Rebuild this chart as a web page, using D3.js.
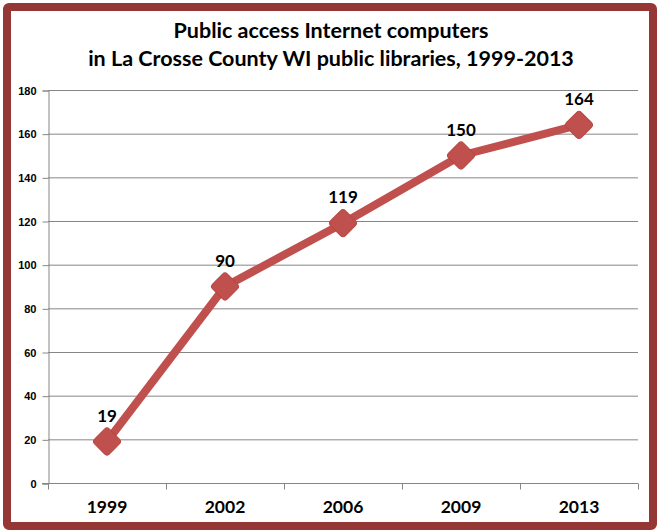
<!DOCTYPE html>
<html>
<head>
<meta charset="utf-8">
<script src="https://cdn.jsdelivr.net/npm/d3@7"></script>
<style>
  body { margin: 0; background: #fff; }
  svg { display: block; }
</style>
</head>
<body>
<div id="chart"></div>
<script>
// chart data
var years = ['1999', '2002', '2006', '2009', '2013']
var computers = [19, 90, 119, 150, 164]
var yTicks = [0, 20, 40, 60, 80, 100, 120, 140, 160, 180]
var titleLines = ['Public access Internet computers', 'in La Crosse County WI public libraries, 1999-2013']

var width = 660, height = 531
var lineColor = '#C0504D'

var svg = d3.select('#chart')
    .append('svg')
    .attr('width', width)
    .attr('height', height)

// outer frame
svg.append('rect')
    .attr('x', 7).attr('y', 7)
    .attr('width', 646).attr('height', 519)
    .attr('rx', 2)
    .attr('fill', '#fff')
    .attr('stroke', '#953735')
    .attr('stroke-width', 8)

// title
svg.selectAll('.title')
    .data(titleLines)
    .enter()
    .append('text')
    .attr('class', 'title')
    .attr('x', 331)
    .attr('y', function (d, i) { return 38 + i * 28 })
    .attr('text-anchor', 'middle')
    .style('font-family', 'Lato, sans-serif')
    .style('font-weight', 'bold')
    .style('font-size', '21.5px')
    .text(function (d) { return d })

// scales
var x = d3.scaleBand().domain(years).range([48, 638])
var y = d3.scaleLinear().domain([0, 180]).range([483, 90])

// gridlines
svg.selectAll('.grid')
    .data(yTicks.slice(1))
    .enter()
    .append('line')
    .attr('x1', 48).attr('x2', 638)
    .attr('y1', function (d) { return y(d) + 0.5 })
    .attr('y2', function (d) { return y(d) + 0.5 })
    .attr('stroke', '#868686')
    .attr('stroke-width', 1)

// y axis
var yAxis = svg.append('g')
    .attr('transform', 'translate(48.5,0.5)')
    .call(d3.axisLeft(y).tickValues(yTicks).tickSize(6).tickPadding(6))
yAxis.selectAll('line, path').attr('stroke', '#868686')
yAxis.selectAll('text')
    .style('font-family', 'Arial, sans-serif')
    .style('font-weight', 'bold')
    .style('font-size', '11px')
    .attr('fill', '#000')

// x axis: ticks between categories
var xAxis = svg.append('g')
    .attr('transform', 'translate(0,483.5)')
xAxis.append('line')
    .attr('x1', 42).attr('x2', 638)
    .attr('stroke', '#868686')
xAxis.selectAll('.tick')
    .data(years)
    .enter()
    .append('line')
    .attr('x1', function (d) { return Math.round(x(d) + x.bandwidth()) + 0.5 })
    .attr('x2', function (d) { return Math.round(x(d) + x.bandwidth()) + 0.5 })
    .attr('y1', 0).attr('y2', 6)
    .attr('stroke', '#868686')
xAxis.append('line')
    .attr('x1', 48.5).attr('x2', 48.5)
    .attr('y1', 0).attr('y2', 6)
    .attr('stroke', '#868686')
xAxis.selectAll('.lbl')
    .data(years)
    .enter()
    .append('text')
    .attr('x', function (d) { return x(d) + x.bandwidth() / 2 })
    .attr('y', 29)
    .attr('text-anchor', 'middle')
    .style('font-family', 'Lato, sans-serif')
    .style('font-weight', 'bold')
    .style('font-size', '17.5px')
    .text(function (d) { return d })

var points = years.map(function (d, i) { return { year: d, value: computers[i] } })

// the line
svg.append('path')
    .datum(points)
    .attr('d', d3.line()
        .x(function (d) { return x(d.year) + x.bandwidth() / 2 })
        .y(function (d) { return y(d.value) }))
    .attr('fill', 'none')
    .attr('stroke', lineColor)
    .attr('stroke-width', 8)
    .attr('stroke-linejoin', 'round')

// diamond markers
svg.selectAll('.marker')
    .data(points)
    .enter()
    .append('rect')
    .attr('x', -10.5).attr('y', -10.5)
    .attr('width', 21).attr('height', 21)
    .attr('rx', 3.5)
    .attr('transform', function (d) {
        return 'translate(' + (x(d.year) + x.bandwidth() / 2) + ',' + y(d.value) + ') rotate(45)'
    })
    .attr('fill', lineColor)
    .attr('stroke', '#B84744')
    .attr('stroke-width', 1)

// data labels
svg.selectAll('.val')
    .data(points)
    .enter()
    .append('text')
    .attr('x', function (d) { return x(d.year) + x.bandwidth() / 2 })
    .attr('y', function (d) { return y(d.value) - 20 })
    .attr('text-anchor', 'middle')
    .style('font-family', 'Lato, sans-serif')
    .style('font-weight', 'bold')
    .style('font-size', '17px')
    .text(function (d) { return d.value })
</script>
</body>
</html>
